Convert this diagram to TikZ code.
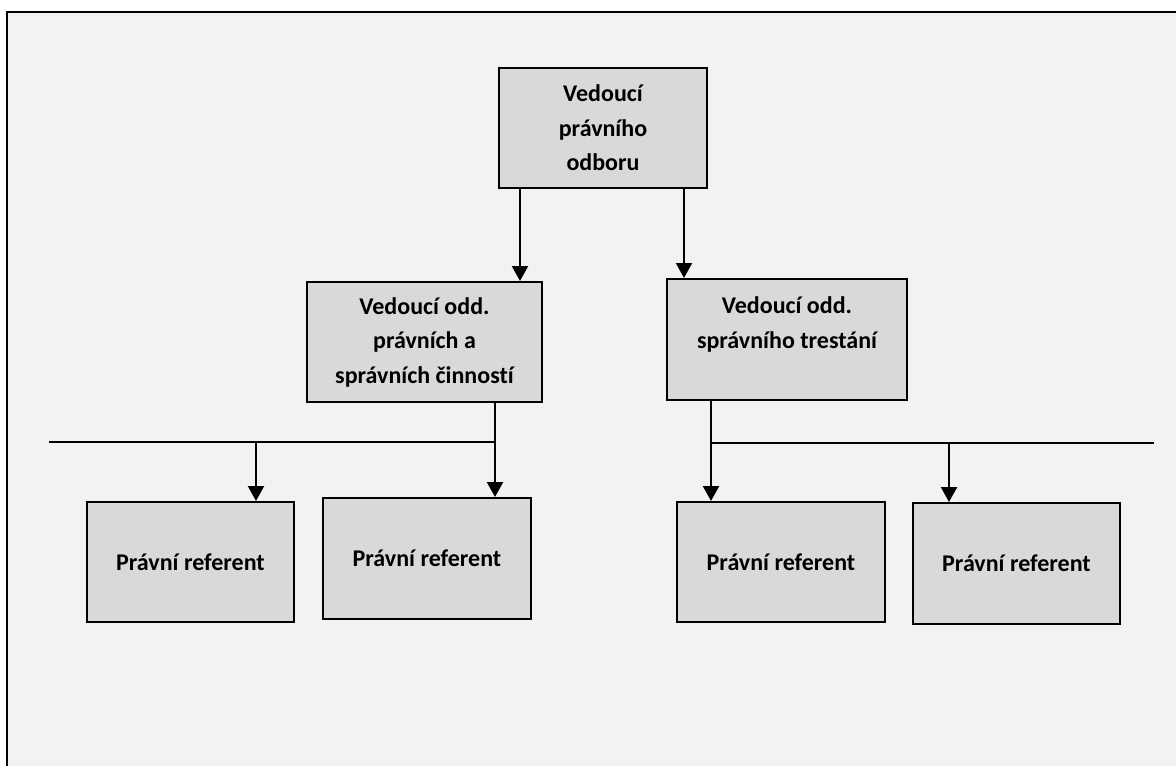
\documentclass[tikz,border=0pt]{standalone}
\usepackage{fontspec}
\setmainfont{Carlito}[Ligatures={NoCommon}]
\usetikzlibrary{arrows.meta}
\definecolor{pagebg}{HTML}{F2F2F2}
\definecolor{boxfill}{HTML}{D9D9D9}
\begin{document}
\begin{tikzpicture}[x=1pt,y=-1pt,
  txt/.style={font=\fontsize{24}{34.5}\selectfont\bfseries, align=center, text=black},
  box/.style={txt, draw=black, line width=2pt, fill=boxfill, inner sep=0pt},
  arr/.style={line width=2.2pt, -{Triangle[length=15pt,width=16pt]}},
  bus/.style={line width=1.6pt},
]
\useasboundingbox (0,0) rectangle (1176,766);
\fill[white] (0,0) rectangle (1176,766);
% page frame
\draw[line width=2pt, fill=pagebg] (7,11.5) rectangle (1190,780);

% boxes
\node[box, minimum width=208pt, minimum height=120pt] (head) at (603,128) {Vedoucí\\právního\\odboru};
\node[box, minimum width=235pt, minimum height=120pt] (odd1) at (424.5,342) {Vedoucí odd.\\právních a\\správních činností};
\node[box, minimum width=240pt, minimum height=121pt,
      label={[txt, yshift=15pt]center:{Vedoucí odd.\\správního trestání}}] (odd2) at (787,339.5) {};
\node[box, minimum width=207pt, minimum height=120pt] (ref1) at (190.5,562) {Právní referent};
\node[box, minimum width=208pt, minimum height=121pt] (ref2) at (427,558.5) {Právní referent};
\node[box, minimum width=208pt, minimum height=120pt] (ref3) at (781,562) {Právní referent};
\node[box, minimum width=207pt, minimum height=121pt] (ref4) at (1016.5,563.5) {Právní referent};

% head to the two departments
\draw[arr] ([xshift=-83pt]head.south) -- ([xshift=-83pt]head.south |- odd1.north);
\draw[arr] ([xshift=81pt]head.south) -- ([xshift=81pt]head.south |- odd2.north);

% left department bus
\coordinate (busL) at (49,442);
\coordinate (jL) at ([xshift=70.5pt]odd1.south |- busL);
\draw[arr] ([xshift=70.5pt]odd1.south) -- ([xshift=70.5pt]odd1.south |- ref2.north);
\draw[bus] (busL) -- (jL);
\draw[arr] ([xshift=65.5pt]ref1.north |- busL) -- ([xshift=65.5pt]ref1.north);

% right department bus
\coordinate (busR) at (1154,443);
\coordinate (jR) at ([xshift=-76pt]odd2.south |- busR);
\draw[arr] ([xshift=-76pt]odd2.south) -- ([xshift=-76pt]odd2.south |- ref3.north);
\draw[bus] (jR) -- (busR);
\draw[arr] ([xshift=-67.5pt]ref4.north |- busR) -- ([xshift=-67.5pt]ref4.north);
\end{tikzpicture}
\end{document}
